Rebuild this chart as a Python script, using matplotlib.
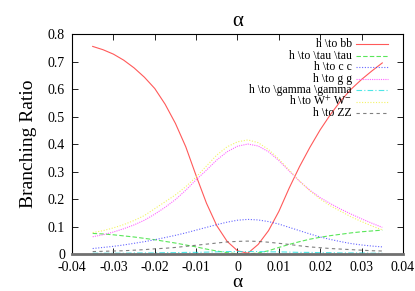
import matplotlib
matplotlib.use("Agg")
import matplotlib.pyplot as plt

plt.rcParams['font.family'] = ['Liberation Serif', 'DejaVu Serif']
plt.rcParams['mathtext.fontset'] = 'stix'

alpha = [-0.035, -0.0325, -0.030, -0.0275, -0.025, -0.0225, -0.020, -0.0175, -0.015,
         -0.0125, -0.010, -0.0075, -0.005, -0.0025, 0.000, 0.0025, 0.005, 0.0075,
         0.010, 0.0125, 0.015, 0.0175, 0.020, 0.0225, 0.025, 0.0275, 0.030, 0.0325, 0.035]

br_bb = [0.755, 0.743, 0.727, 0.705, 0.677, 0.643, 0.602, 0.545, 0.475, 0.390, 0.285,
         0.185, 0.103, 0.046, 0.012, 0.003, 0.035, 0.085, 0.155, 0.240, 0.318, 0.388,
         0.452, 0.508, 0.558, 0.600, 0.635, 0.666, 0.695]
br_tautau = [0.075, 0.073, 0.070, 0.066, 0.062, 0.057, 0.052, 0.046, 0.040, 0.033, 0.026,
             0.018, 0.011, 0.005, 0.001, 0.000, 0.004, 0.012, 0.024, 0.035, 0.045, 0.054,
             0.061, 0.067, 0.072, 0.077, 0.081, 0.084, 0.087]
br_cc = [0.020, 0.024, 0.028, 0.033, 0.039, 0.045, 0.052, 0.060, 0.068, 0.077, 0.087,
         0.097, 0.107, 0.116, 0.123, 0.126, 0.124, 0.118, 0.109, 0.097, 0.085, 0.073,
         0.062, 0.053, 0.045, 0.038, 0.033, 0.029, 0.026]
br_gg = [0.063, 0.070, 0.080, 0.092, 0.106, 0.123, 0.145, 0.170, 0.198, 0.232, 0.270,
         0.305, 0.342, 0.372, 0.392, 0.400, 0.393, 0.372, 0.340, 0.302, 0.265, 0.232,
         0.205, 0.183, 0.163, 0.145, 0.128, 0.112, 0.097]
br_gamgam = [0.003, 0.003, 0.003, 0.003, 0.004, 0.004, 0.004, 0.005, 0.005, 0.006, 0.006,
             0.007, 0.008, 0.009, 0.009, 0.009, 0.009, 0.008, 0.008, 0.007, 0.006, 0.006,
             0.005, 0.005, 0.004, 0.004, 0.004, 0.003, 0.003]
br_ww = [0.078, 0.085, 0.095, 0.107, 0.122, 0.140, 0.165, 0.190, 0.215, 0.245, 0.280,
         0.320, 0.360, 0.390, 0.408, 0.415, 0.405, 0.380, 0.345, 0.305, 0.265, 0.230,
         0.200, 0.175, 0.155, 0.135, 0.118, 0.102, 0.088]
br_zz = [0.009, 0.010, 0.011, 0.012, 0.014, 0.016, 0.019, 0.021, 0.024, 0.028, 0.032,
         0.036, 0.040, 0.044, 0.046, 0.047, 0.046, 0.043, 0.039, 0.035, 0.030, 0.026,
         0.023, 0.020, 0.018, 0.016, 0.014, 0.012, 0.011]

labels = [r"h \to bb", r"h \to \tau \tau", r"h \to c c", r"h \to g g",
          r"h \to \gamma \gamma", r"h \to W$^{+}$ W$^{-}$", r"h \to ZZ"]
series = [br_bb, br_tautau, br_cc, br_gg, br_gamgam, br_ww, br_zz]
colors = ["#ff3030", "#30e030", "#4040ff", "#ff40ff", "#20e0e0", "#f0f040", "#606060"]
styles = ["-", (0, (4, 2)), (0, (1, 1.5)), (0, (1, 1)), (0, (5, 2, 1, 2)), (0, (1, 1.5)), (0, (3, 3))]

xticks = [-0.04, -0.03, -0.02, -0.01, 0, 0.01, 0.02, 0.03, 0.04]
xticklabels = ["-0.04", "-0.03", "-0.02", "-0.01", "0", "0.01", "0.02", "0.03", "0.04"]
yticks = [0, 0.1, 0.2, 0.3, 0.4, 0.5, 0.6, 0.7, 0.8]
yticklabels = ["0", "0.1", "0.2", "0.3", "0.4", "0.5", "0.6", "0.7", "0.8"]

fig = plt.figure(figsize=(4.15, 2.91), dpi=100)
ax = fig.add_axes([0.1735, 0.127, 0.7975, 0.756])

for ys, c, ls in zip(series, colors, styles):
    ax.plot(alpha, ys, color=c, ls=ls, lw=0.8, alpha=0.8)

ax.set_xlim(-0.04, 0.04)
ax.set_ylim(0, 0.8)
ax.set_xticks(xticks)
ax.set_xticklabels(xticklabels)
ax.set_yticks(yticks)
ax.set_yticklabels(yticklabels)
ax.tick_params(direction='in', top=True, right=True, labelsize=10, length=4, width=0.6, pad=5)
for s in ax.spines.values():
    s.set_linewidth(0.8)
ax.spines['bottom'].set_color('#707070')
ax.spines['bottom'].set_linewidth(2)

ax.set_title("α", fontsize=15, pad=6)
ax.set_xlabel("α", fontsize=14, labelpad=0)
ax.set_ylabel("Branching Ratio", fontsize=14, labelpad=8)

# gnuplot style key: text right aligned, sample on the right
y0 = 0.953
dy = 0.052
for i, (lab, c, ls) in enumerate(zip(labels, colors, styles)):
    yy = y0 - i * dy
    ax.text(0.845, yy, lab, transform=ax.transAxes, ha='right', va='center', fontsize=8.5)
    ax.plot([0.858, 0.955], [yy, yy], transform=ax.transAxes, color=c, ls=ls, lw=0.8, alpha=0.8)

fig.savefig("out.png", dpi=100)
